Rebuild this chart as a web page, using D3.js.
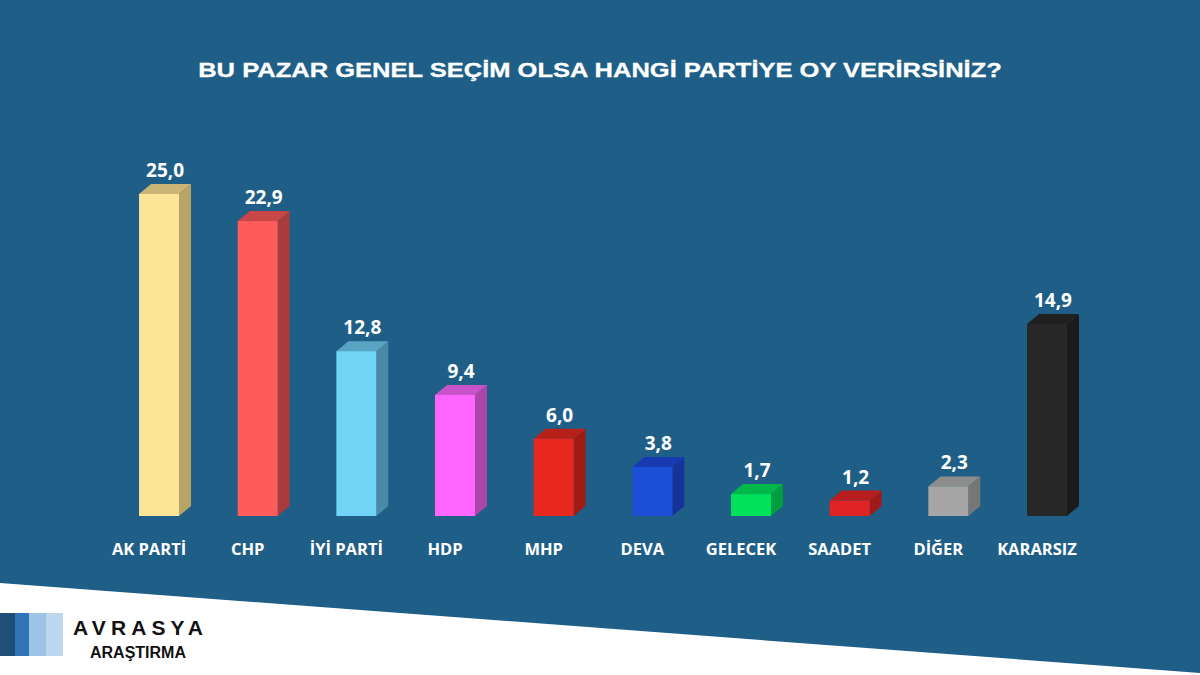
<!DOCTYPE html>
<html><head><meta charset="utf-8">
<script src="https://cdn.jsdelivr.net/npm/d3@7"></script>
<style>html,body{margin:0;padding:0;background:#fff;}svg{display:block;}</style>
</head><body>
<svg id="c" width="1200" height="675"></svg>
<script>
const categories = ["AK PARTİ","CHP","İYİ PARTİ","HDP","MHP","DEVA","GELECEK","SAADET","DİĞER","KARARSIZ"];
const values = [25.0,22.9,12.8,9.4,6.0,3.8,1.7,1.2,2.3,14.9];
const frontColors = ["#fde598","#ff5b5b","#70d4f7","#ff66ff","#e8281e","#1d4fd8","#00e25c","#e02424","#a6a6a6","#272727"];
const sideColors  = ["#b9a467","#a83c3c","#4a8aa6","#aa46aa","#9e1c15","#15339a","#009e3f","#a01a1a","#777777","#1b1b1b"];
const topColors   = ["#cab577","#c94646","#58a4c2","#c852c8","#b8201a","#173ab0","#00b84a","#b81e1e","#8c8c8c","#202020"];
const title = "BU PAZAR GENEL SEÇİM OLSA HANGİ PARTİYE OY VERİRSİNİZ?";

const svg = d3.select("#c");
const W = 1200, H = 675;
svg.append("rect").attr("width",W).attr("height",H).attr("fill","#1f5f87");
svg.append("path").attr("d",`M0,583 L1200,673 L1200,675 L0,675 Z`).attr("fill","#ffffff");

const tg = svg.append("g");
const tt = tg.append("text").attr("x",0).attr("y",0).attr("text-anchor","middle")
  .attr("fill","#fff").attr("font-family","'Liberation Sans',Arial,sans-serif")
  .attr("font-weight","bold").attr("font-size",21).attr("stroke","#fff").attr("stroke-width",0.3).text(title);
const tw = tt.node().getComputedTextLength();
tg.attr("transform",`translate(600,77) scale(${804/tw},1)`);

const x = d3.scaleBand().domain(categories).range([109.7,1096.3]).paddingInner(0.595).paddingOuter(0.2975);
const y = d3.scaleLinear().domain([0,25]).range([516,194]);
const dx = 12, dy = 10;

const g = svg.append("g");
categories.forEach((c,i)=>{
  const x0 = x(c), bw = x.bandwidth(), y0 = y(values[i]), yb = y(0);
  g.append("path").attr("d",`M${x0+bw},${y0} L${x0+bw+dx},${y0-dy} L${x0+bw+dx},${yb-dy} L${x0+bw},${yb} Z`).attr("fill",sideColors[i]);
  g.append("path").attr("d",`M${x0},${y0} L${x0+dx},${y0-dy} L${x0+bw+dx},${y0-dy} L${x0+bw},${y0} Z`).attr("fill",topColors[i]);
  g.append("rect").attr("x",x0).attr("y",y0).attr("width",bw).attr("height",yb-y0).attr("fill",frontColors[i]);
  g.append("text").attr("x",x0+bw/2+6).attr("y",y0-17).attr("text-anchor","middle")
    .attr("fill","#fff").attr("font-family","'Open Sans',sans-serif").attr("font-weight","bold").attr("font-size",19)
    .text(d3.format(".1f")(values[i]).replace(".",","));
  g.append("text").attr("x",x0+bw/2-10).attr("y",555).attr("text-anchor","middle")
    .attr("fill","#fff").attr("font-family","'Open Sans',sans-serif").attr("font-weight","bold").attr("font-size",16.5)
    .text(c);
});

const stripes = [["#1f4e79",0,15],["#2e75b6",15,29],["#9dc3e6",29,46],["#bdd7ee",46,63]];
stripes.forEach(s=>svg.append("rect").attr("x",s[1]).attr("y",613).attr("width",s[2]-s[1]).attr("height",43).attr("fill",s[0]));
svg.append("text").attr("x",73).attr("y",635).attr("fill","#111").attr("font-family","'Liberation Sans',Arial,sans-serif")
  .attr("font-weight","bold").attr("font-size",21).attr("textLength",130).attr("lengthAdjust","spacing").text("AVRASYA");
svg.append("text").attr("x",138).attr("y",658).attr("text-anchor","middle").attr("fill","#111").attr("font-family","'Liberation Sans',Arial,sans-serif")
  .attr("font-weight","bold").attr("font-size",16).text("ARAŞTIRMA");
</script>
</body></html>
